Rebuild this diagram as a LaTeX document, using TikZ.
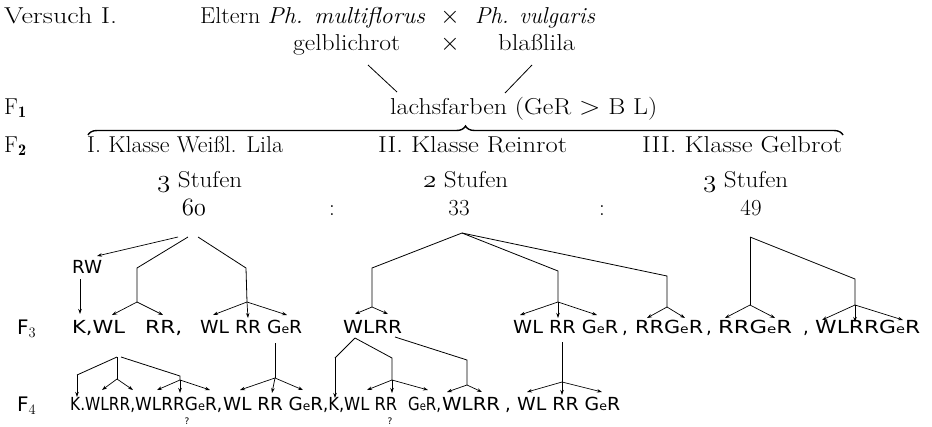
\documentclass[tikz,border=0pt]{standalone}
\usepackage{fontspec}
\usetikzlibrary{arrows.meta,decorations.pathreplacing}
\newfontfamily\genfont{DejaVu Sans}
% old-style figures from the math italic font
\newcommand{\osn}[1]{\ensuremath{\mathnormal{#1}}}
% colour formula GeR with the small e
\newcommand{\ger}{G{\fontsize{12}{12}\selectfont e}R}
% set a label to a given width, keeping its height
\newcommand{\fitw}[2]{\resizebox{#1pt}{\height}{#2}}
\begin{document}
\begin{tikzpicture}[x=1pt,y=-1pt,
  lab/.style={inner sep=0pt,anchor=base west,font=\fontsize{23}{27}\selectfont},
  labc/.style={lab,anchor=base},
  gen/.style={inner sep=0pt,anchor=base west,font=\genfont\fontsize{18}{21}\selectfont},
  qmark/.style={inner sep=0pt,anchor=base,font=\genfont\fontsize{9}{9}\selectfont},
  ln/.style={line width=0.8pt},
  arr/.style={line width=0.7pt,-{Stealth[length=5pt,width=3.5pt]}},
  brc/.style={line width=1.4pt,decorate,decoration={brace,amplitude=9pt}}]
\useasboundingbox (0,0) rectangle (932,426);

% ---------- header: parents ----------
\node[lab] (vers) at (4,23) {\fitw{113}{Versuch I.}};
\node[lab] (elt)  at (200,23) {\fitw{225}{Eltern \textit{Ph. multiflorus}}};
\node[labc] (x1)  at (450,23) {$\times$};
\node[lab] (vul)  at (475,23) {\fitw{120}{\textit{Ph. vulgaris}}};
\node[lab] (gel)  at (293,50) {\fitw{107}{gelblichrot}};
\node[labc] (x2)  at (450,50) {$\times$};
\node[lab] (bla)  at (498,50) {\fitw{77}{blaßlila}};

\coordinate (gelA) at (368,65);  \coordinate (gelB) at (397,92);
\coordinate (blaA) at (532,65);  \coordinate (blaB) at (505,93);
\draw[ln] (gelA) -- (gelB);
\draw[ln] (blaA) -- (blaB);

% ---------- F1 ----------
\node[lab] (f1)  at (4,114) {F$_{\mathbf 1}$};
\node[lab] (lch) at (390,114) {\fitw{267}{lachsfarben (GeR $>$ B L)}};

\coordinate (brL) at (88,135);
\coordinate (brR) at (843,135);
\draw[brc] (brL) -- (brR);

% ---------- F2 ----------
\node[lab] (f2) at (4,152) {F$_{\mathbf 2}$};
\node[lab] (k1) at (87,152)  {\fitw{196}{I. Klasse Weißl. Lila}};
\node[lab] (k2) at (378,152) {\fitw{189}{II. Klasse Reinrot}};
\node[lab] (k3) at (642,152) {\fitw{200}{III. Klasse Gelbrot}};
\node[lab] (s1) at (157,187) {\fitw{85}{\osn{3} Stufen}};
\node[lab] (s2) at (423,187) {\fitw{85}{\osn{2} Stufen}};
\node[lab] (s3) at (703,187) {\fitw{85}{\osn{3} Stufen}};
\node[labc] (n60) at (194,215) {\osn{60}};
\node[labc] (c1)  at (332,215) {:};
\node[labc] (n33) at (459,215) {33};
\node[labc] (c2)  at (602,215) {:};
\node[labc] (n49) at (751,215) {49};

% ---------- F3 row ----------
\node[gen] (rw) at (72,273) {\fitw{30}{RW}};
\node[gen,font=\genfont\fontsize{20}{22}\selectfont] (f3) at (17,334) {F$_3$};
\node[gen] (a1) at (72,333)  {\fitw{53}{K,WL}};
\node[gen] (a2) at (145,333) {\fitw{37}{RR,}};
\node[gen] (a3) at (200,333) {\fitw{102}{WL RR \ger}};
\node[gen] (a4) at (343,333) {\fitw{59}{WLRR}};
\node[gen] (a5) at (513,333) {\fitw{105}{WL RR \ger}};
\node[gen] (a5c) at (622,333) {,};
\node[gen] (a6) at (635,333) {\fitw{68}{RR\ger}};
\node[gen] (a6c) at (706,333) {,};
\node[gen] (a7) at (718,333) {\fitw{74}{RR\ger}};
\node[gen] (a7c) at (803,333) {,};
\node[gen] (a8) at (815,333) {\fitw{105}{WLRR\ger}};

% ---------- F4 row ----------
\node[gen,font=\genfont\fontsize{20}{22}\selectfont] (f4) at (17,411) {F$_4$};
\node[gen] (b1) at (70,410)  {\fitw{65}{K.WLRR,}};
\node[gen] (b2) at (135,410) {\fitw{87}{WLRR\ger,}};
\node[gen] (b3) at (223,410) {\fitw{100}{WL RR \ger}};
\node[gen] (b4) at (323,410) {\fitw{74}{,K,WL RR}};
\node[gen] (b5) at (408,410) {\fitw{33}{\ger,}};
\node[gen] (b6) at (442,410) {\fitw{58}{WLRR}};
\node[gen] (b7) at (505,410) {,};
\node[gen] (b8) at (517,410) {\fitw{103}{WL RR \ger}};
\node[qmark] (q1) at (187,424) {?};
\node[qmark] (q2) at (390,424) {?};

% ---------- descent from the 60 ----------
\coordinate (t60)  at (188,237);
\coordinate (t60w) at (178,237);
\coordinate (rwk)  at (97,256);
\draw[arr] (t60w) -- (rwk);
\coordinate (rwB) at (80,279);  \coordinate (rwT) at (80,314);
\draw[arr] (rwB) -- (rwT);

\coordinate (j1) at (137,268); \coordinate (j1b) at (137,302);
\coordinate (e1) at (112,315); \coordinate (e2) at (163,315);
\draw[ln] (t60) -- (j1) -- (j1b);
\foreach \t in {e1,e2} \draw[arr] (j1b) -- (\t);

\coordinate (t60r) at (198,237);
\coordinate (j2) at (246,268); \coordinate (j2b) at (247,302);
\coordinate (e3) at (213,315); \coordinate (e4) at (248,318); \coordinate (e5) at (287,315);
\draw[ln] (t60r) -- (j2) -- (j2b);
\foreach \t in {e3,e4,e5} \draw[arr] (j2b) -- (\t);

% ---------- descent from the 33 ----------
\coordinate (t33) at (462,233);
\coordinate (j3) at (372,268); \coordinate (j3b) at (372,307);
\coordinate (e6) at (355,314); \coordinate (e7) at (388,314);
\draw[ln] (t33) -- (j3) -- (j3b);
\foreach \t in {e6,e7} \draw[arr] (j3b) -- (\t);

\coordinate (j4) at (558,271); \coordinate (j4b) at (558,302);
\coordinate (e8) at (520,315); \coordinate (e9) at (558,318); \coordinate (e10) at (597,315);
\draw[ln] (t33) -- (j4) -- (j4b);
\foreach \t in {e8,e9,e10} \draw[arr] (j4b) -- (\t);

\coordinate (j5) at (667,276); \coordinate (j5b) at (667,307);
\coordinate (e11) at (647,318); \coordinate (e12) at (685,318);
\draw[ln] (t33) -- (j5) -- (j5b);
\foreach \t in {e11,e12} \draw[arr] (j5b) -- (\t);

% ---------- descent from the 49 ----------
\coordinate (t49) at (750,237);
\coordinate (j6b) at (750,305);
\coordinate (e13) at (725,318); \coordinate (e14) at (775,318);
\draw[ln] (t49) -- (j6b);
\foreach \t in {e13,e14} \draw[arr] (j6b) -- (\t);

\coordinate (j7) at (855,279); \coordinate (j7b) at (855,305);
\coordinate (e15) at (822,320); \coordinate (e16) at (855,322); \coordinate (e17) at (903,320);
\draw[ln] (t49) -- (j7) -- (j7b);
\foreach \t in {e15,e16,e17} \draw[arr] (j7b) -- (\t);

% ---------- F3 -> F4, left group ----------
\coordinate (m0) at (117,357);
\coordinate (m1) at (77,375);  \coordinate (m1b) at (77,397);
\draw[ln] (m0) -- (m1);
\draw[arr] (m1) -- (m1b);
\coordinate (m2) at (117,379);
\coordinate (f41) at (102,390); \coordinate (f42) at (133,390);
\draw[ln] (m0) -- (m2);
\foreach \t in {f41,f42} \draw[arr] (m2) -- (\t);
\coordinate (m3s) at (121,357);
\coordinate (m3) at (180,376); \coordinate (m3b) at (180,380);
\coordinate (f43) at (157,390); \coordinate (f44) at (180,393); \coordinate (f45) at (210,390);
\draw[ln] (m3s) -- (m3) -- (m3b);
\foreach \t in {f43,f44,f45} \draw[arr] (m3b) -- (\t);
\coordinate (g1) at (275,343); \coordinate (g1b) at (275,378);
\coordinate (f46) at (240,390); \coordinate (f47) at (272,393); \coordinate (f48) at (303,390);
\draw[ln] (g1) -- (g1b);
\foreach \t in {f46,f47,f48} \draw[arr] (g1b) -- (\t);

% ---------- F3 -> F4, middle group ----------
\coordinate (w0) at (355,338);
\coordinate (w1) at (335,358); \coordinate (w1b) at (335,398);
\draw[ln] (w0) -- (w1);
\draw[arr] (w1) -- (w1b);
\coordinate (w2) at (392,358); \coordinate (w2b) at (392,380);
\coordinate (f49) at (367,390); \coordinate (f410) at (392,393); \coordinate (f411) at (428,390);
\draw[ln] (w0) -- (w2) -- (w2b);
\foreach \t in {f49,f410,f411} \draw[arr] (w2b) -- (\t);
\coordinate (w3s) at (395,337);
\coordinate (w3) at (467,360); \coordinate (w3b) at (467,385);
\coordinate (f412) at (447,392); \coordinate (f413) at (482,392);
\draw[ln] (w3s) -- (w3) -- (w3b);
\foreach \t in {f412,f413} \draw[arr] (w3b) -- (\t);
\coordinate (g2) at (562,342); \coordinate (g2b) at (562,382);
\coordinate (f414) at (527,392); \coordinate (f415) at (562,395); \coordinate (f416) at (602,392);
\draw[ln] (g2) -- (g2b);
\foreach \t in {f414,f415,f416} \draw[arr] (g2b) -- (\t);
\end{tikzpicture}
\end{document}
